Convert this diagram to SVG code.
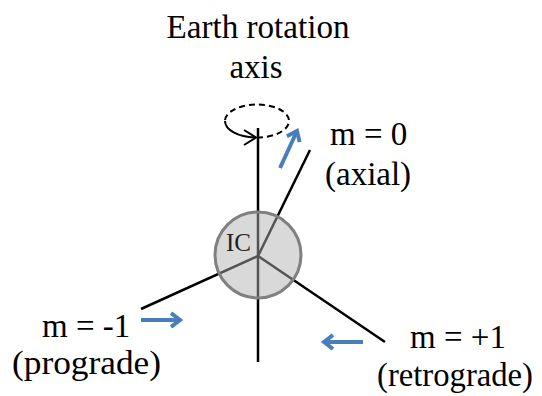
<svg xmlns="http://www.w3.org/2000/svg" width="542" height="396" viewBox="0 0 542 396">
<defs>
<style>
.t{font-family:"Liberation Serif","Times New Roman",serif;font-size:33px;fill:#000}
.ln{stroke:#000;stroke-width:2.5;fill:none}
.blue{stroke:#4a7ebb;stroke-width:4;fill:none;stroke-linecap:butt}
</style>
<marker id="ah" markerUnits="userSpaceOnUse" markerWidth="16" markerHeight="18" refX="12" refY="8" orient="auto" viewBox="0 0 16 16">
<path d="M3,1 L12,8 L3,15" fill="none" stroke="#4a7ebb" stroke-width="4"/>
</marker>
</defs>
<rect width="542" height="396" fill="#fff"/>
<g id="title">
<text class="t" x="258" y="38" text-anchor="middle" textLength="183" lengthAdjust="spacingAndGlyphs">Earth rotation</text>
<text class="t" x="256" y="78" text-anchor="middle">axis</text>
</g>
<g id="connectors">
<line class="ln" x1="258" y1="128" x2="258" y2="362"/>
<line class="ln" x1="258" y1="256" x2="310" y2="150"/>
<line class="ln" x1="258" y1="256" x2="141" y2="309"/>
<line class="ln" x1="258" y1="256" x2="385" y2="342"/>
<path d="M257,137.5 A32,16.5 0 1 0 225,121" fill="none" stroke="#000" stroke-width="2" stroke-dasharray="6,4"/>
<path d="M225,121 A32,16.5 0 0 0 255,137.5" fill="none" stroke="#000" stroke-width="2"/>
<path d="M244,130 L256,137.5 L244,145" fill="none" stroke="#000" stroke-width="2"/>
<line class="blue" x1="280" y1="168" x2="297" y2="131" marker-end="url(#ah)"/>
<line class="blue" x1="141" y1="320" x2="180" y2="320" marker-end="url(#ah)"/>
<line class="blue" x1="363" y1="342" x2="324" y2="342" marker-end="url(#ah)"/>
</g>
<g id="ic">
<circle cx="258" cy="255" r="43" fill="#b0b0b0" fill-opacity="0.48" stroke="#808080" stroke-width="3"/>
<text x="226" y="251" font-family="Liberation Serif, serif" font-size="25" fill="#222">IC</text>
</g>
<g id="m0">
<text class="t" x="330" y="145">m = 0</text>
<text class="t" x="325" y="185">(axial)</text>
</g>
<g id="mminus1">
<text class="t" x="42" y="337">m = -1</text>
<text class="t" x="12" y="374" textLength="149" lengthAdjust="spacingAndGlyphs">(prograde)</text>
</g>
<g id="mplus1">
<text class="t" x="410" y="348">m = +1</text>
<text class="t" x="377" y="386" textLength="156" lengthAdjust="spacingAndGlyphs">(retrograde)</text>
</g>
</svg>
